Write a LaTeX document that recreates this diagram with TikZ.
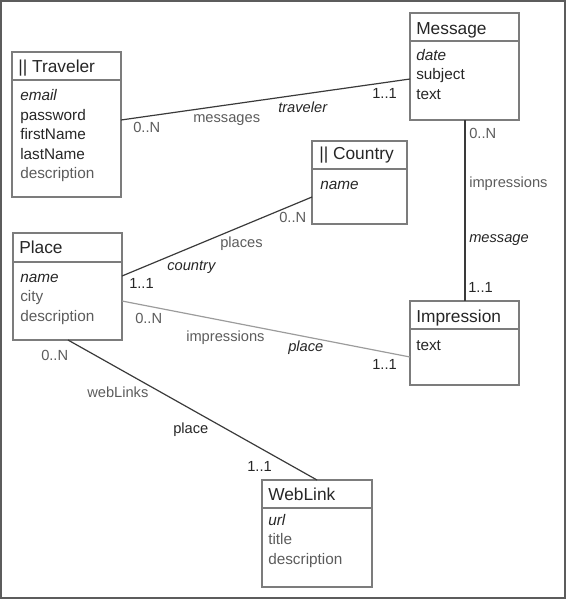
\documentclass[tikz,border=0pt]{standalone}
\usepackage{fontspec}
\setmainfont{Liberation Sans}
\usetikzlibrary{calc}
\definecolor{darktext}{HTML}{262626}
\definecolor{greytext}{HTML}{5C5C5C}
\definecolor{boxgrey}{HTML}{7C7C7C}
\definecolor{linedark}{HTML}{3A3A3A}
\definecolor{linelight}{HTML}{9C9C9C}

\begin{document}
\begin{tikzpicture}[x=0.75pt,y=0.75pt,yscale=-1,xscale=1,
  entity/.style={draw=boxgrey,line width=1pt,rectangle,inner sep=0pt,outer sep=0pt,anchor=north west},
  headline/.style={draw=boxgrey,line width=1pt},
  title/.style={anchor=base west,inner sep=0pt,color=darktext,font=\fontsize{13}{15}\selectfont},
  attrs/.style={anchor=north west,inner sep=0pt,align=left,color=darktext,font=\fontsize{11.5}{14.6}\selectfont},
  assoc/.style={draw=linedark,line width=0.9pt},
  lbl/.style={anchor=base west,inner sep=0pt,color=greytext,font=\fontsize{11}{13}\selectfont},
  mult/.style={lbl,color=darktext},
  role/.style={lbl,color=darktext,font=\fontsize{11}{13}\selectfont\itshape}]
%set diagram size 566 x 600
\useasboundingbox (0,0) rectangle (566,600);

%Shape: Frame
\draw [color=greytext,line width=1.4pt] (1,1) rectangle (565,598);

%Shape: Rectangle [Traveler]
\node (traveler) [entity,minimum width=81.75pt,minimum height=108.75pt] at (12,52) {};
\draw [headline] (traveler.north west) ++(0,28) -- ++(109,0);
%Shape: Rectangle [Message]
\node (message) [entity,minimum width=81.75pt,minimum height=80.25pt] at (410,13) {};
\draw [headline] (message.north west) ++(0,28) -- ++(109,0);
%Shape: Rectangle [Country]
\node (country) [entity,minimum width=71.25pt,minimum height=62.25pt] at (312,141) {};
\draw [headline] (country.north west) ++(0,28) -- ++(95,0);
%Shape: Rectangle [Place]
\node (place) [entity,minimum width=81.75pt,minimum height=80.25pt] at (13,233) {};
\draw [headline] (place.north west) ++(0,29) -- ++(109,0);
%Shape: Rectangle [Impression]
\node (impression) [entity,minimum width=81.75pt,minimum height=63pt] at (410,301) {};
\draw [headline] (impression.north west) ++(0,28) -- ++(109,0);
%Shape: Rectangle [WebLink]
\node (weblink) [entity,minimum width=82.5pt,minimum height=80.25pt] at (262,480) {};
\draw [headline] (weblink.north west) ++(0,28) -- ++(110,0);

% Text Node
\node (travelerTitle) [title] at (18,72) {|| Traveler};
\node (travelerAttrs) [attrs] at (20,87) {\strut\textit{email}\\password\\firstName\\lastName\\\textcolor{greytext}{description}};
% Text Node
\node (messageTitle) [title] at (416,34) {Message};
\node (messageAttrs) [attrs] at (416,46.4) {\strut\textit{date}\\subject\\text};
% Text Node
\node (countryTitle) [title] at (319,159) {|| Country};
\node (countryAttrs) [attrs] at (320,175.4) {\strut\textit{name}};
% Text Node
\node (placeTitle) [title] at (19,253) {Place};
\node (placeAttrs) [attrs] at (20,268.4) {\strut\textit{name}\\\textcolor{greytext}{city}\\\textcolor{greytext}{description}};
% Text Node
\node (impressionTitle) [title] at (416,322) {Impression};
\node (impressionAttrs) [attrs] at (416,336.4) {\strut text};
% Text Node
\node (weblinkTitle) [title] at (268,500) {WebLink};
\node (weblinkAttrs) [attrs] at (268,511.4) {\strut\textit{url}\\\textcolor{greytext}{title}\\\textcolor{greytext}{description}};

%Straight Lines
\draw [assoc] ($(traveler.north east)+(0,68)$) -- ($(message.north west)+(0,66)$);
\draw [assoc] ($(place.north east)+(0,43)$) -- ($(country.north west)+(0,56)$);
\draw [assoc,draw=linelight] ($(place.north east)+(0,68)$) -- ($(impression.north west)+(0,56)$);
\draw [assoc] ($(place.south west)+(55,0)$) -- ($(weblink.north west)+(55,0)$);
\draw [assoc] ($(message.south west)+(55,0)$) -- ($(impression.north west)+(55,0)$);

% Text Node
\node (tmMult1) [lbl] at (133,132) {0..N};
\node (tmName) [lbl] at (193,122) {messages};
\node (tmRole) [role] at (278,112) {traveler};
\node (tmMult2) [mult] at (372,98) {1..1};
% Text Node
\node (pcMult1) [mult] at (129,288) {1..1};
\node (pcRole) [role] at (167,270) {country};
\node (pcName) [lbl] at (220,247) {places};
\node (pcMult2) [lbl] at (279,222) {0..N};
% Text Node
\node (piMult1) [lbl] at (135,323) {0..N};
\node (piName) [lbl] at (186,341) {impressions};
\node (piRole) [role] at (288,351) {place};
\node (piMult2) [mult] at (372,369) {1..1};
% Text Node
\node (pwMult1) [lbl] at (41,360) {0..N};
\node (pwName) [lbl] at (87,397) {webLinks};
\node (pwRole) [mult] at (173,433) {place};
\node (pwMult2) [mult] at (247,471) {1..1};
% Text Node
\node (miMult1) [lbl] at (469,138) {0..N};
\node (miName) [lbl] at (469,187) {impressions};
\node (miRole) [role] at (469,242) {message};
\node (miMult2) [mult] at (468,292) {1..1};

\end{tikzpicture}
\end{document}
